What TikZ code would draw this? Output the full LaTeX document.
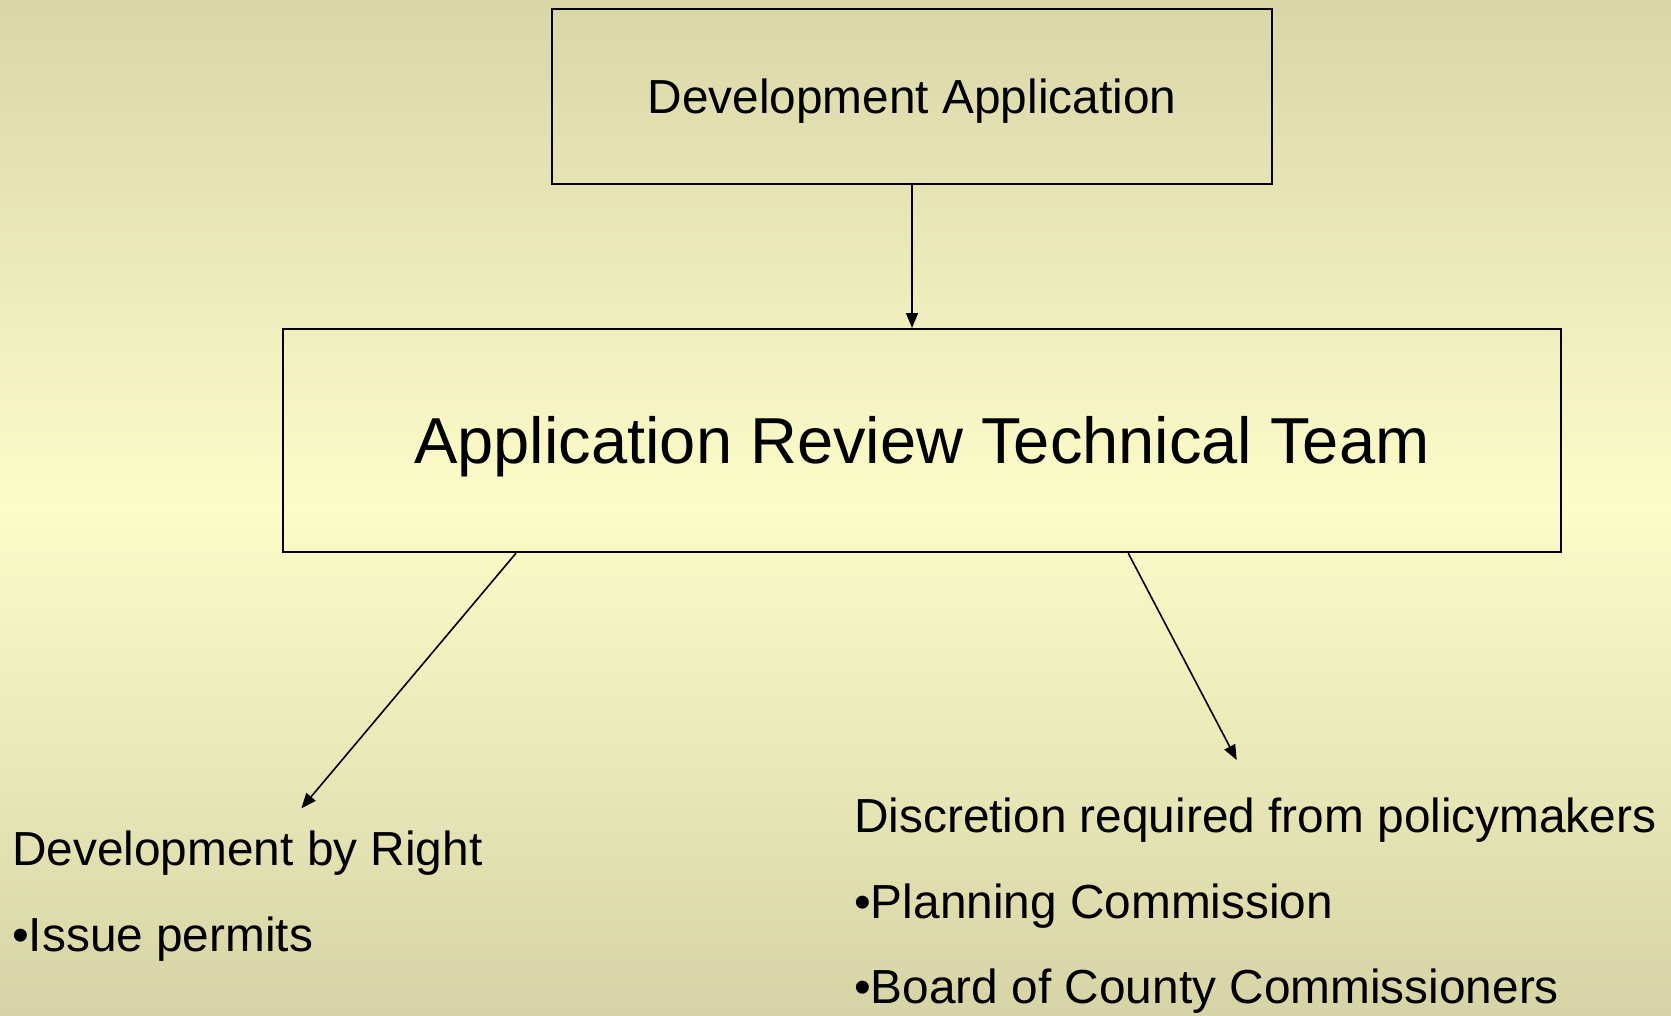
\documentclass[tikz,border=0pt]{standalone}
\usepackage{fontspec}
\setmainfont{Liberation Sans}
\usetikzlibrary{arrows.meta}
\definecolor{bgtop}{RGB}{217,214,168}
\definecolor{bgmid}{RGB}{252,252,201}
\definecolor{bgbottom}{RGB}{214,212,166}
\begin{document}
\begin{tikzpicture}[x=1pt,y=-1pt,
  box/.style={draw=black,line width=2pt,inner sep=0pt,text depth=0pt},
  link/.style={line width=1.6pt,-{Triangle[length=15pt,width=12pt]}},
  item/.style={anchor=base west,inner sep=0pt,font=\fontsize{47.8}{57}\selectfont}]
% page background: soft vertical gradient, lightest in the middle
\shade[top color=bgtop,bottom color=bgbottom,middle color=bgmid] (0,0) rectangle (1671,1015);
\useasboundingbox (0,0) rectangle (1671,1015);

% boxes
\node[box,minimum width=720pt,minimum height=175.3pt,text height=34.2pt,
      font=\fontsize{47.8}{57}\selectfont] (app) at (912,96.7) {Development Application};
\node[box,minimum width=1278.5pt,minimum height=223.3pt,text height=46.5pt,
      font=\fontsize{65}{78}\selectfont] (team) at (921.95,440.65) {Application Review Technical Team};

% outcome texts
\node[item] (byright) at (12,865) {Development by Right};
\node[item] (permits) at (12,951.7) {•Issue permits};
\node[item] (discretion) at (854,832.7) {Discretion required from policymakers};
\node[item] (planning) at (854,918.3) {•Planning Commission};
\node[item] (board) at (854,1003.3) {•Board of County Commissioners};

% arrow ends above the outcome texts
\coordinate (leftTip) at (301.4,808.3);
\coordinate (rightTip) at (1236.7,760);

% connectors
\draw[link] (app.south) -- (app.south |- team.north);
\draw[link] ([xshift=234.2pt]team.south west) -- (leftTip);
\draw[link] ([xshift=846.6pt]team.south west) -- (rightTip);
\end{tikzpicture}
\end{document}
